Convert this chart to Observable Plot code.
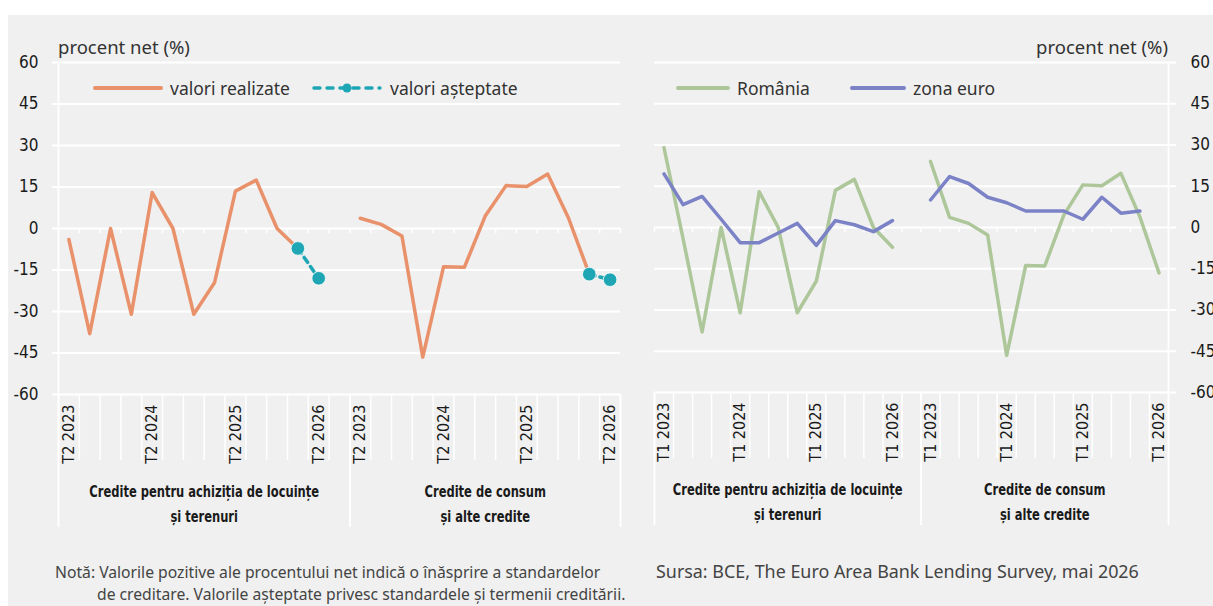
<!DOCTYPE html>
<html>
<head>
<meta charset="utf-8">
<script src="https://cdn.jsdelivr.net/npm/d3@7"></script>
<script src="https://cdn.jsdelivr.net/npm/@observablehq/plot@0.6"></script>
<style>
  html, body { margin: 0; padding: 0; background: #ffffff; }
  #wrap { position: relative; width: 1213px; height: 606px; overflow: hidden; background: #fff; font-family: "Noto Sans", "Open Sans", sans-serif; }
  #bg { position: absolute; left: 8px; top: 15px; right: 0; bottom: 0; background: #f0f0f0; }
  .abs { position: absolute; white-space: nowrap; }
  .unit { font-size: 18.5px; color: #333; }
  .leg { font-size: 17.5px; color: #333; display: flex; align-items: center; }
  .note { font-size: 15.7px; color: #444; line-height: 22px; }
  svg.plot { position: absolute; top: 0; overflow: visible; }
</style>
</head>
<body>
<div id="wrap">
  <div id="bg"></div>
</div>
<script>
// ---------- data ----------
const yTicks = [-60, -45, -30, -15, 0, 15, 30, 45, 60];

// left panel: Romania, realised and expected (quarters T2 2023 .. T2 2026)
const quartersLeft = ["T2 2023","T3 2023","T4 2023","T1 2024","T2 2024","T3 2024","T4 2024","T1 2025","T2 2025","T3 2025","T4 2025","T1 2026","T2 2026"];
const housingRealized  = [-4, -38, 0, -31, 13, 0, -31, -19.5, 13.5, 17.5, 0, -7.2, null];
const housingExpected  = [null, null, null, null, null, null, null, null, null, null, null, -7.2, -18];
const consumerRealized = [3.7, 1.5, -2.7, -46.5, -13.8, -14, 4.5, 15.5, 15.2, 19.7, 3.8, -16.5, null];
const consumerExpected = [null, null, null, null, null, null, null, null, null, null, null, -16.5, -18.5];

// right panel: Romania vs euro area (quarters T1 2023 .. T1 2026)
const quartersRight = ["T1 2023","T2 2023","T3 2023","T4 2023","T1 2024","T2 2024","T3 2024","T4 2024","T1 2025","T2 2025","T3 2025","T4 2025","T1 2026"];
const roHousing  = [29, -4, -38, 0, -31, 13, 0, -31, -19.5, 13.5, 17.5, 0, -7.2];
const euHousing  = [19.5, 8.3, 11.3, 3, -5.5, -5.5, -2, 1.5, -6.5, 2.5, 1, -1.5, 2.5];
const roConsumer = [24, 3.7, 1.5, -2.7, -46.5, -13.8, -14, 4.5, 15.5, 15.2, 19.7, 3.8, -16.5];
const euConsumer = [10, 18.5, 16, 11, 9, 6, 6, 6, 3, 11, 5.2, 6, null];

const groupLabels = ["Credite pentru achiziția de locuințe\nși terenuri", "Credite de consum\nși alte credite"];
const shownEvery = 4;

const colRealized = "#e8916a";
const colExpected = "#1fa6b5";
const colRomania  = "#adc79a";
const colEuro     = "#7b82c6";

const condensed = '"Liberation Sans Narrow", "Arial Narrow", "DejaVu Sans Condensed", sans-serif';

// ---------- helpers ----------
const n = quartersLeft.length;          // 13 quarters per group
const offset2 = n + 1;                  // one empty band between groups
const totalBands = 2 * n + 1;
const xDomain = [-0.5, totalBands - 0.5];
const boundaries = d3.range(totalBands + 1).map(k => k - 0.5);
const separators = [-0.5, n + 0.5, totalBands - 0.5];
const groupCenters = [(-0.5 + n + 0.5) / 2, (n + 0.5 + totalBands - 0.5) / 2];

function series(values, group, name) {
  return values.map((v, i) => ({i: i + (group === 0 ? 0 : offset2), v, g: group, name}));
}
function labelsFor(q) {
  const out = [];
  q.forEach((lab, i) => { if (i % shownEvery === 0) { out.push({i, lab}); out.push({i: i + offset2, lab}); } });
  return out;
}

function panel({width, marginLeft, marginRight, marginBottom, lines, dots, q, axisAnchor}) {
  const height = 540;
  const frameH = height - 62 - marginBottom;
  const marks = [
    Plot.ruleY(yTicks, {stroke: "#fff", strokeWidth: 1.8,
      insetLeft: axisAnchor === "left" ? -6 : 0, insetRight: axisAnchor === "right" ? -8 : 0}),
    Plot.ruleX([axisAnchor === "left" ? xDomain[0] : xDomain[1]], {stroke: "#fff", strokeWidth: 1.8}),
    Plot.ruleX(boundaries, {y1: 0, y2: 0, insetBottom: -5, stroke: "#fff", strokeWidth: 1.5}),
    Plot.ruleX(boundaries, {insetTop: frameH, insetBottom: -66, stroke: "#fff", strokeWidth: 1.5}),
    Plot.ruleX(separators, {insetTop: frameH, insetBottom: -133, stroke: "#fff", strokeWidth: 1.8}),
    Plot.axisY({anchor: axisAnchor, ticks: yTicks, tickSize: 0, tickPadding: axisAnchor === "left" ? 20 : 22,
      tickFormat: d => String(d), fill: "#1a1a1a", fontSize: 17, fontFamily: condensed, label: null}),
    Plot.text(labelsFor(q), {x: "i", text: "lab", frameAnchor: "bottom", rotate: -90, textAnchor: "end",
      lineAnchor: "middle", dy: 10, fontSize: 16, fontFamily: condensed, fill: "#1a1a1a"}),
    Plot.text(groupLabels, {x: (d, k) => groupCenters[k], text: d => d, frameAnchor: "bottom", lineAnchor: "top",
      dy: 84, lineHeight: 1.6, fontSize: 16, fontWeight: 600, fontFamily: condensed, fill: "#1a1a1a"}),
    ...lines,
    ...dots
  ];
  const svg = Plot.plot({
    width, height, marginTop: 62, marginLeft, marginRight, marginBottom,
    style: {background: "transparent", overflow: "visible"},
    x: {domain: xDomain, axis: null},
    y: {domain: [-60, 60], axis: null},
    marks
  });
  // narrow the group labels horizontally (condensed look)
  const keys = groupLabels.map(g => g.replace(/\s/g, ""));
  d3.select(svg).selectAll("text").each(function () {
    const t = this.textContent.replace(/\s/g, "");
    if (!keys.includes(t)) return;
    const tr = this.getAttribute("transform");
    if (tr) {
      this.setAttribute("transform", tr + " scale(0.8,1)");
    } else {
      const x = +this.getAttribute("x") || 0, y = +this.getAttribute("y") || 0;
      this.removeAttribute("x"); this.removeAttribute("y");
      d3.select(this).selectAll("tspan").each(function () {
        if (this.getAttribute("x") != null) this.setAttribute("x", (+this.getAttribute("x") - x));
      });
      this.setAttribute("transform", `translate(${x},${y}) scale(0.8,1)`);
    }
  });
  return svg;
}

// ---------- left panel ----------
const realized = [...series(housingRealized, 0, "r"), ...series(consumerRealized, 1, "r")].filter(d => d.v != null);
const expected = [...series(housingExpected, 0, "e"), ...series(consumerExpected, 1, "e")].filter(d => d.v != null);

const left = panel({
  width: 640, marginLeft: 58, marginRight: 20, marginBottom: 540 - 394, q: quartersLeft, axisAnchor: "left",
  lines: [
    Plot.line(realized, {x: "i", y: "v", z: "g", stroke: colRealized, strokeWidth: 3.5, strokeLinejoin: "round"}),
    Plot.line(expected, {x: "i", y: "v", z: "g", stroke: colExpected, strokeWidth: 3.5, strokeDasharray: "6,5", strokeLinecap: "round"})
  ],
  dots: [
    Plot.dot(expected, {x: "i", y: "v", r: 6.8, fill: colExpected, stroke: "#fff", strokeWidth: 0.8})
  ]
});
left.classList.add("plot");
left.style.left = "0px";

// ---------- right panel ----------
const ro = [...series(roHousing, 0, "ro"), ...series(roConsumer, 1, "ro")].filter(d => d.v != null);
const eu = [...series(euHousing, 0, "eu"), ...series(euConsumer, 1, "eu")].filter(d => d.v != null);

const right = panel({
  width: 573, marginLeft: 14, marginRight: 45, marginBottom: 540 - 392, q: quartersRight, axisAnchor: "right",
  lines: [
    Plot.line(ro, {x: "i", y: "v", z: "g", stroke: colRomania, strokeWidth: 3.5, strokeLinejoin: "round"}),
    Plot.line(eu, {x: "i", y: "v", z: "g", stroke: colEuro, strokeWidth: 3.5, strokeLinejoin: "round"})
  ],
  dots: []
});
right.classList.add("plot");
right.style.left = "640px";

const wrap = document.getElementById("wrap");
wrap.appendChild(left);
wrap.appendChild(right);

// ---------- text, legends, notes ----------
function addDiv(html, cls, css) {
  const d = document.createElement("div");
  d.className = "abs " + cls;
  d.innerHTML = html;
  Object.assign(d.style, css);
  wrap.appendChild(d);
  return d;
}
addDiv("procent net (%)", "unit", {left: "58px", top: "34px"});
addDiv("procent net (%)", "unit", {right: "45px", top: "34px"});

function swatch(color, w, dashed) {
  if (!dashed) return `<svg width="${w}" height="10" style="margin-right:7px"><line x1="2" x2="${w-2}" y1="5" y2="5" stroke="${color}" stroke-width="4" stroke-linecap="round"/></svg>`;
  return `<svg width="${w}" height="12" style="margin-right:7px"><line x1="3" x2="${w-3}" y1="6" y2="6" stroke="${color}" stroke-width="3.5" stroke-dasharray="6,7" stroke-linecap="round"/><circle cx="${w/2}" cy="6" r="4.5" fill="${color}"/></svg>`;
}
addDiv(swatch(colRealized, 70) + "valori realizate", "leg", {left: "93px", top: "76px"});
addDiv(swatch(colExpected, 72, true) + "valori așteptate", "leg", {left: "311px", top: "76px"});
addDiv(swatch(colRomania, 54) + "România", "leg", {left: "676px", top: "76px"});
addDiv(swatch(colEuro, 56) + "zona euro", "leg", {left: "850px", top: "76px"});

addDiv("Notă: Valorile pozitive ale procentului net indică o înăsprire a standardelor<br><span style='padding-left:42px'>de creditare. Valorile așteptate privesc standardele și termenii creditării.</span>", "note", {left: "55px", top: "561px"});
addDiv("Sursa: BCE, The Euro Area Bank Lending Survey, mai 2026", "note", {left: "656px", top: "560px", fontSize: "17.9px"});
</script>
</body>
</html>
